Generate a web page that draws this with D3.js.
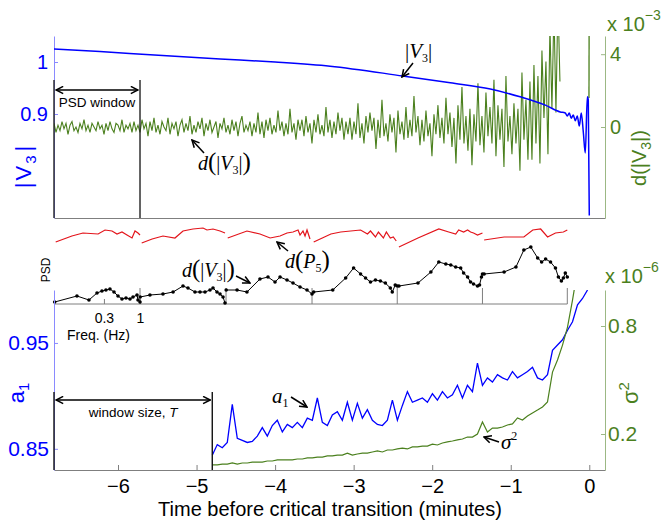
<!DOCTYPE html>
<html>
<head>
<meta charset="utf-8">
<script src="https://cdn.jsdelivr.net/npm/d3@7"></script>
<style>
body{margin:0;background:#fff;}
</style>
</head>
<body>
<svg id="chart" width="663" height="523"></svg>
<script>
// ---------- data ----------
const timeTicks = [-6, -5, -4, -3, -2, -1, 0];

// |V3| (p.u.), top panel, left axis
const v3Time = [-6.815, -6.23, -5.59, -4.70, -4.00, -3.30, -2.37, -1.77, -1.26, -0.88, -0.56, -0.37, -0.306, -0.28, -0.255, -0.23, -0.204, -0.178, -0.153, -0.127, -0.102, -0.076, -0.051, -0.025, -0.013, 0.0];
const v3Mag = [1.025, 1.020, 1.014, 1.006, 1.000, 0.992, 0.973, 0.960, 0.948, 0.933, 0.917, 0.904, 0.902, 0.896, 0.902, 0.892, 0.898, 0.887, 0.896, 0.877, 0.902, 0.865, 0.825, 0.933, 0.927, 0.705];

// d(|V3|) x 1e-3, sampled every dvStep minutes from dvStart
const dvStart = -6.815, dvStep = 0.02546;
const dv = [
  0.2,-0.3,0.1,-0.2,0.3,-0.1,0.2,-0.4,0.1,0.3,
  -0.2,0.0,-0.3,0.2,-0.1,0.4,-0.2,0.1,-0.3,0.2,
  0.0,-0.2,0.3,-0.1,0.1,-0.4,0.2,-0.2,0.3,-0.1,
  -0.3,0.2,0.1,-0.2,0.4,-0.3,0.1,-0.1,0.2,-0.3,
  0.3,-0.2,0.1,
  -0.3,0.4,-0.1,0.2,-0.5,0.3,-0.2,0.5,-0.3,0.1,
  -0.4,0.3,0.0,-0.2,0.5,-0.4,0.2,-0.1,0.3,-0.5,
  0.1,0.4,-0.3,0.2,-0.2,0.6,-0.4,0.1,-0.3,0.3,
  -0.1,0.5,-0.5,0.2,-0.2,0.4,-0.3,0.0,0.3,-0.6,
  0.2,-0.1,0.5,-0.3,0.1,-0.4,0.4,-0.2,0.3,-0.5,
  0.2,0.6,-0.3,0.1,-0.2,
  0.3,-0.5,0.2,-0.3,0.8,-0.4,0.3,-0.6,0.4,-0.2,
  0.5,-0.4,0.1,-0.3,0.9,-0.2,0.3,-0.5,0.2,-0.4,
  1.0,-0.3,0.2,-0.7,0.4,-0.2,0.4,-0.5,0.6,-0.3,
  0.2,-0.9,0.4,-0.3,0.7,-0.4,0.1,-0.5,1.1,-0.3,
  0.4,-0.6,0.3,-0.4,0.8,-0.2,0.5,-0.7,0.3,-0.4,
  0.5,-0.7,0.3,-0.4,1.3,-0.6,0.2,-0.9,0.6,-0.3,
  0.8,-0.2,0.5,-1.2,0.4,-0.6,1.5,-0.5,0.2,-0.8,
  0.7,-0.3,0.5,-1.4,0.9,-0.4,0.3,-0.7,1.1,-0.6,
  0.4,-0.5,1.7,-0.3,0.6,-1.0,0.4,-0.8,0.9,-0.5,
  0.2,-1.6,0.7,-0.4,1.2,-0.6,0.5,-0.9,1.6,-0.4,
  0.8,-1.1,0.5,-2.0,1.2,-0.7,2.2,-0.9,0.6,-1.3,
  1.0,-2.1,0.7,-0.8,2.4,-1.0,0.6,-1.4,1.9,-0.5,
  1.1,-0.9,2.6,-1.6,1.2,-0.7,1.0,-2.2,2.8,-0.8,
  0.6,-1.5,1.3,-0.9,1.0,-2.4,3.0,-0.7,1.5,-1.8,
  2.5,-1.8,3.4,-0.9,2.8,-2.0,4.2,0.5,3.6,-1.5,5.5,1.0,6.5,0.8,7.0,2.5
];
const dvTailTime = [-0.004, -0.002];
const dvTail = [1.6, 6.0];

// PSD windows (minutes) and spectra, [frequency Hz, level]
const psdWindow = [-6.815, -5.72];
const psdEdges = [-6.815, -5.72, -4.625, -3.53, -2.445, -1.36, -0.28];
const psdFreqRange = [0.0567, 1];
const psdFreqTicks = [0.3, 1];
const psdBlack = [
  [[0.058,0.2],[0.122,0.8],[0.182,0.4],[0.238,1.1],[0.281,1.3],[0.321,1.4],[0.367,1.5],[0.42,1.2],[0.48,0.8],[0.548,0.5],[0.627,0.6],[0.716,0.5],[0.792,0.7],[0.905,0.9],[0.935,0.4],[1.0,0.2]],
  [[0.057,0.7],[0.079,0.9],[0.122,1.0],[0.171,1.2],[0.238,1.8],[0.281,1.6],[0.355,1.2],[0.42,1.2],[0.496,1.2],[0.586,1.4],[0.648,1.6],[0.74,1.2],[0.819,1.0],[0.905,0.7],[0.967,0.1]],
  [[0.057,1.4],[0.082,1.4],[0.114,1.2],[0.176,2.5],[0.23,2.7],[0.291,2.2],[0.344,2.7],[0.434,2.4],[0.53,2.1],[0.67,1.7],[0.846,1.4],[1.0,1.0]],
  [[0.06,1.2],[0.114,1.4],[0.176,2.6],[0.23,3.6],[0.291,3.0],[0.344,2.6],[0.406,2.2],[0.48,2.4],[0.567,2.3],[0.67,2.1],[0.792,1.6],[0.846,1.2],[0.935,1.9],[1.0,1.8]],
  [[0.06,1.8],[0.114,2.1],[0.176,3.2],[0.23,4.2],[0.291,4.0],[0.344,3.9],[0.406,3.7],[0.48,3.6],[0.53,3.1],[0.606,2.7],[0.67,2.2],[0.74,2.0],[0.846,1.8],[0.905,1.9],[0.967,2.7],[1.0,3.0]],
  [[0.06,3.0],[0.118,3.2],[0.176,3.7],[0.23,5.4],[0.291,5.7],[0.367,4.6],[0.42,4.2],[0.48,4.5],[0.567,4.2],[0.67,3.6],[0.74,2.7],[0.819,2.3],[0.875,2.6],[0.935,3.1],[1.0,2.7]]
];
const psdRed = [
  [[0.06,6.2],[0.103,6.8],[0.149,7.1],[0.247,7.0],[0.311,7.4],[0.393,7.3],[0.464,7.0],[0.548,7.2],[0.648,6.9],[0.766,6.6],[0.846,7.3],[0.935,7.1],[1.0,6.9]],
  [[0.06,6.1],[0.085,6.5],[0.122,6.8],[0.182,6.6],[0.238,7.3],[0.332,7.5],[0.464,7.6],[0.53,7.4],[0.648,7.5],[0.819,7.3],[0.967,7.1]],
  [[0.06,6.6],[0.114,7.3],[0.176,7.0],[0.247,6.6],[0.344,6.8],[0.434,7.1],[0.53,7.2],[0.627,7.4],[0.67,6.9],[0.74,7.3],[0.792,6.8],[0.846,7.4],[0.935,6.5]],
  [[0.06,6.2],[0.107,7.0],[0.149,7.2],[0.291,7.4],[0.367,7.0],[0.406,7.3],[0.48,6.7],[0.53,7.2],[0.627,6.6],[0.693,7.2],[0.792,6.6],[0.875,6.7],[0.967,6.3]],
  [[0.06,5.7],[0.114,6.6],[0.23,7.5],[0.321,7.2],[0.406,7.0],[0.449,7.4],[0.53,7.2],[0.606,7.4],[0.67,7.2],[0.74,7.1],[0.846,6.9],[1.0,7.1]],
  [[0.06,6.4],[0.118,6.7],[0.23,6.7],[0.311,7.4],[0.406,7.5],[0.513,6.7],[0.67,7.1],[0.875,7.2],[1.0,7.4]]
];

// early-warning indicators, sampled every ewsStep minutes from ewsStart
const windowT = [-6.815, -4.80];
const ewsStart = -4.80, ewsStep = 0.0637;
const a1 = [
  0.844,0.854,0.851,0.856,0.892,0.860,0.858,0.856,0.857,0.862,
  0.870,0.862,0.872,0.877,0.866,0.873,0.870,0.875,0.870,0.879,
  0.877,0.898,0.875,0.872,0.882,0.885,0.877,0.894,0.877,0.893,
  0.879,0.887,0.877,0.873,0.872,0.877,0.896,0.877,0.891,0.904,
  0.894,0.896,0.898,0.894,0.902,0.896,0.904,0.898,0.901,0.910,
  0.898,0.910,0.904,0.931,0.910,0.917,0.913,0.920,0.917,0.915,
  0.923,0.917,0.920,0.923,0.927,0.917,0.915,0.920,0.943,0.948,
  0.953,0.962,0.970,0.986,0.992,1.000
];
// sigma^2 x 1e-6
const sigma2 = [
  0.028,0.028,0.033,0.033,0.039,0.033,0.039,0.039,0.044,0.044,
  0.044,0.050,0.050,0.056,0.056,0.056,0.056,0.061,0.061,0.067,
  0.067,0.072,0.072,0.078,0.078,0.083,0.083,0.094,0.083,0.089,
  0.094,0.094,0.100,0.106,0.100,0.111,0.111,0.117,0.122,0.117,
  0.128,0.128,0.133,0.133,0.144,0.139,0.150,0.156,0.161,0.167,
  0.172,0.183,0.183,0.200,0.267,0.211,0.233,0.233,0.239,0.250,
  0.256,0.289,0.278,0.300,0.317,0.333,0.350,0.378,0.544,0.611,
  0.694,0.794,0.944,1.111
];

// ---------- drawing ----------
const SANS = '"Liberation Sans", Arial, Helvetica, sans-serif';
const SERIF = '"Liberation Serif", "Times New Roman", serif';
const BLUE = '#0000ff', BLUE_AX = '#8a8aff', GREEN = '#4b801e', GREEN_AX = '#9cb884', RED = '#e3141b', GRAY = '#7f7f7f';

const svg = d3.select('#chart');
const x = d3.scaleLinear().domain([-6.815, 0.2]).range([54, 605]);

const defs = svg.append('defs');
defs.append('marker')
    .attr('id', 'ah')
    .attr('viewBox', '0 0 10 10')
    .attr('refX', 9).attr('refY', 5)
    .attr('markerWidth', 6).attr('markerHeight', 6)
    .attr('orient', 'auto-start-reverse')
  .append('path')
    .attr('d', 'M1,1 L9,5 L1,9')
    .attr('fill', 'none')
    .attr('stroke', '#000')
    .attr('stroke-width', 1.7);
defs.append('clipPath').attr('id', 'clipTop')
  .append('rect').attr('x', 54).attr('y', 36).attr('width', 551).attr('height', 182);
defs.append('clipPath').attr('id', 'clipBot')
  .append('rect').attr('x', 54).attr('y', 290).attr('width', 551).attr('height', 180);

function styleAxis(g, lineColor, textColor, size){
    g.attr('font-family', SANS).attr('font-size', size);
    g.select('.domain').attr('stroke', lineColor);
    g.selectAll('.tick line').attr('stroke', lineColor);
    g.selectAll('.tick text').attr('fill', textColor);
}

function arrow(x1, y1, x2, y2, both){
    svg.append('line')
        .attr('x1', x1).attr('y1', y1).attr('x2', x2).attr('y2', y2)
        .attr('stroke', '#000').attr('stroke-width', 1.5)
        .attr('marker-end', 'url(#ah)')
        .attr('marker-start', both ? 'url(#ah)' : null);
}

// writes a run of tspans; each part: [text, {it, size, dy, dx}]
function richText(parent, px, py, parts, attrs){
    const t = parent.append('text').attr('x', px).attr('y', py);
    Object.entries(attrs || {}).forEach(([k, v]) => t.attr(k, v));
    parts.forEach(([s, o]) => {
        const sp = t.append('tspan').text(s);
        if (o && o.it) sp.attr('font-style', 'italic');
        if (o && o.size) sp.attr('font-size', o.size);
        if (o && o.dy) sp.attr('dy', o.dy);
        if (o && o.dx) sp.attr('dx', o.dx);
    });
    return t;
}

function renderTop(){
    const yV = d3.scaleLinear().domain([0.7, 1.05]).range([218, 36]);
    const yD = d3.scaleLinear().domain([-5, 5]).range([218, 36]);

    const gx = svg.append('g').attr('transform', 'translate(0,218)')
        .call(d3.axisBottom(x).tickValues([]).tickSizeOuter(0));
    styleAxis(gx, GRAY, '#000', 20);

    const gl = svg.append('g').attr('transform', 'translate(54,0)')
        .call(d3.axisLeft(yV).tickValues([0.9, 1]).tickFormat(d3.format('~g'))
            .tickSizeInner(-4).tickSizeOuter(0).tickPadding(6));
    styleAxis(gl, BLUE_AX, BLUE, 20);

    const gr = svg.append('g').attr('transform', 'translate(605,0)')
        .call(d3.axisRight(yD).tickValues([0, 4]).tickFormat(d3.format('~g'))
            .tickSizeInner(-4).tickSizeOuter(0).tickPadding(5));
    styleAxis(gr, GREEN_AX, GREEN, 20);

    const plot = svg.append('g').attr('clip-path', 'url(#clipTop)');
    const dvLine = d3.line().x((d, i) => x(dvStart + i * dvStep)).y(d => yD(d));
    plot.append('path').datum(dv).attr('d', dvLine)
        .attr('fill', 'none').attr('stroke', GREEN).attr('stroke-width', 1.1);
    plot.append('path').datum(dvTail)
        .attr('d', d3.line().x((d, i) => x(dvTailTime[i])).y(d => yD(d)))
        .attr('fill', 'none').attr('stroke', GREEN).attr('stroke-width', 1.3);

    const vLine = d3.line().x((d, i) => x(v3Time[i])).y(d => yV(d)).curve(d3.curveMonotoneX);
    plot.append('path').datum(v3Mag).attr('d', vLine)
        .attr('fill', 'none').attr('stroke', BLUE).attr('stroke-width', 1.5);

    // PSD window marks
    psdWindow.forEach(t => {
        svg.append('line').attr('x1', x(t)).attr('x2', x(t)).attr('y1', 80).attr('y2', 218)
            .attr('stroke', '#222').attr('stroke-width', 1.4);
    });
    arrow(x(psdWindow[0]) + 2, 90, x(psdWindow[1]) - 2, 90, true);
    svg.append('text').attr('x', (x(psdWindow[0]) + x(psdWindow[1])) / 2).attr('y', 107)
        .attr('text-anchor', 'middle').attr('font-family', SANS).attr('font-size', 13.5)
        .text('PSD window');

    // axis titles
    richText(svg, 0, 0, [['|V', {}], ['3', {size: 15, dy: 5}], ['|', {dy: -5, dx: 2}]],
        {transform: 'translate(31,166) rotate(-90)', 'text-anchor': 'middle', 'font-family': SANS,
         'font-size': 22, fill: BLUE, 'letter-spacing': 2});
    richText(svg, 0, 0, [['d(|V', {}], ['3', {size: 14, dy: 5}], ['|)', {dy: -5}]],
        {transform: 'translate(646,158) rotate(-90)', 'text-anchor': 'middle', 'font-family': SANS,
         'font-size': 20, fill: GREEN});
    richText(svg, 607, 31, [['x 10', {}], ['\u22123', {size: 14, dy: -11}]],
        {'font-family': SANS, 'font-size': 20, fill: GREEN});

    // annotations
    richText(svg, 405, 58, [['|', {}], ['V', {it: true}], ['3', {size: 12, dy: 4}], ['|', {dy: -4}]],
        {'font-family': SERIF, 'font-size': 21});
    arrow(413, 63, 402, 77);
    richText(svg, 198, 170, [['d', {it: true}], ['(', {size: 25}], ['|', {}], ['V', {it: true}],
        ['3', {size: 12, dy: 4}], ['|', {dy: -4}], [')', {size: 25}]],
        {'font-family': SERIF, 'font-size': 20});
    arrow(204, 153, 192, 140);
}

function renderPsd(){
    const yP = d3.scaleLinear().domain([0, 8]).range([304, 224]);
    const fScale = k => d3.scaleLog().domain(psdFreqRange).range([x(psdEdges[k]), x(psdEdges[k + 1])]);

    svg.append('line')
        .attr('x1', x(psdEdges[0])).attr('x2', x(psdEdges[psdEdges.length - 1]))
        .attr('y1', yP(0)).attr('y2', yP(0))
        .attr('stroke', GRAY).attr('stroke-width', 1);
    psdEdges.slice(1).forEach(e => {
        svg.append('line').attr('x1', x(e)).attr('x2', x(e))
            .attr('y1', yP(0)).attr('y2', yP(1.6))
            .attr('stroke', GRAY).attr('stroke-width', 1);
    });

    const fa = svg.append('g').attr('transform', `translate(0,${yP(0)})`)
        .call(d3.axisBottom(fScale(0)).tickValues(psdFreqTicks).tickFormat(d3.format('~g'))
            .tickSizeInner(-5).tickSizeOuter(0).tickPadding(9));
    fa.select('.domain').remove();
    styleAxis(fa, GRAY, '#000', 14);

    psdRed.forEach((w, k) => {
        const f = fScale(k);
        svg.append('path').datum(w)
            .attr('d', d3.line().x(d => f(d[0])).y(d => yP(d[1])))
            .attr('fill', 'none').attr('stroke', RED).attr('stroke-width', 1.2);
    });
    psdBlack.forEach((w, k) => {
        const f = fScale(k);
        svg.append('path').datum(w)
            .attr('d', d3.line().x(d => f(d[0])).y(d => yP(d[1])))
            .attr('fill', 'none').attr('stroke', '#000').attr('stroke-width', 1);
        svg.append('g').selectAll('circle').data(w).enter().append('circle')
            .attr('cx', d => f(d[0])).attr('cy', d => yP(d[1])).attr('r', 1.8)
            .attr('fill', '#000');
    });

    svg.append('text').attr('transform', 'translate(50,270) rotate(-90)')
        .attr('text-anchor', 'middle').attr('font-family', SANS).attr('font-size', 12)
        .text('PSD');
    svg.append('text').attr('x', 67).attr('y', 340)
        .attr('font-family', SANS).attr('font-size', 14).text('Freq. (Hz)');

    richText(svg, 182, 277, [['d', {it: true}], ['(', {size: 25}], ['|', {}], ['V', {it: true}],
        ['3', {size: 12, dy: 4}], ['|', {dy: -4}], [')', {size: 25}]],
        {'font-family': SERIF, 'font-size': 20});
    arrow(236, 276, 250, 283);
    richText(svg, 285, 268, [['d', {it: true}], ['(', {size: 25}], ['P', {it: true}],
        ['5', {size: 12, dy: 4}], [')', {size: 25, dy: -4}]],
        {'font-family': SERIF, 'font-size': 20});
    arrow(288, 251, 277, 242);
}

function renderBottom(){
    const yA = d3.scaleLinear().domain([0.83, 1.0]).range([470, 290]);
    const yS = d3.scaleLinear().domain([0, 1.0]).range([470, 290]);

    const gx = svg.append('g').attr('transform', 'translate(0,470)')
        .call(d3.axisBottom(x).tickValues(timeTicks).tickFormat(d3.format('~g'))
            .tickSizeInner(-5).tickSizeOuter(0).tickPadding(9));
    styleAxis(gx, GRAY, '#000', 20);

    const gl = svg.append('g').attr('transform', 'translate(54,0)')
        .call(d3.axisLeft(yA).tickValues([0.85, 0.95]).tickFormat(d3.format('~g'))
            .tickSizeInner(-4).tickSizeOuter(0).tickPadding(5));
    styleAxis(gl, BLUE_AX, BLUE, 21);

    const gr = svg.append('g').attr('transform', 'translate(605,0)')
        .call(d3.axisRight(yS).tickValues([0.2, 0.8]).tickFormat(d3.format('~g'))
            .tickSizeInner(-4).tickSizeOuter(0).tickPadding(3));
    styleAxis(gr, GREEN_AX, GREEN, 21);

    const plot = svg.append('g').attr('clip-path', 'url(#clipBot)');
    const tAt = i => x(ewsStart + i * ewsStep);
    plot.append('path').datum(a1)
        .attr('d', d3.line().x((d, i) => tAt(i)).y(d => yA(d)))
        .attr('fill', 'none').attr('stroke', BLUE).attr('stroke-width', 1.3);
    plot.append('path').datum(sigma2)
        .attr('d', d3.line().x((d, i) => tAt(i)).y(d => yS(d)))
        .attr('fill', 'none').attr('stroke', GREEN).attr('stroke-width', 1.2);

    windowT.forEach(t => {
        svg.append('line').attr('x1', x(t)).attr('x2', x(t)).attr('y1', 392).attr('y2', 470)
            .attr('stroke', '#111').attr('stroke-width', 1.4);
    });
    arrow(x(windowT[0]) + 2, 400, x(windowT[1]) - 2, 400, true);
    richText(svg, (x(windowT[0]) + x(windowT[1])) / 2, 417, [['window size, ', {}], ['T', {it: true}]],
        {'text-anchor': 'middle', 'font-family': SANS, 'font-size': 13.5});

    // axis titles
    richText(svg, 0, 0, [['a', {}], ['1', {size: 15, dy: 5}]],
        {transform: 'translate(24,393) rotate(-90)', 'text-anchor': 'middle', 'font-family': SANS,
         'font-size': 22, fill: BLUE});
    richText(svg, 0, 0, [['\u03c3', {}], ['2', {size: 15, dy: -9}]],
        {transform: 'translate(638,393) rotate(-90)', 'text-anchor': 'middle', 'font-family': SANS,
         'font-size': 22, fill: GREEN});
    richText(svg, 605, 283, [['x 10', {}], ['\u22126', {size: 14, dy: -11}]],
        {'font-family': SANS, 'font-size': 20, fill: GREEN});

    svg.append('text').attr('x', 330).attr('y', 516).attr('text-anchor', 'middle')
        .attr('font-family', SANS).attr('font-size', 20)
        .text('Time before critical transition (minutes)');

    // annotations
    richText(svg, 272, 403, [['a', {it: true}], ['1', {size: 12, dy: 4}]],
        {'font-family': SERIF, 'font-size': 21});
    arrow(291, 397, 307, 407);
    richText(svg, 501, 449, [['\u03c3', {it: true}], ['2', {size: 12, dy: -9}]],
        {'font-family': SERIF, 'font-size': 21});
    arrow(499, 442, 484, 437);
}

renderTop();
renderPsd();
renderBottom();
</script>
</body>
</html>
